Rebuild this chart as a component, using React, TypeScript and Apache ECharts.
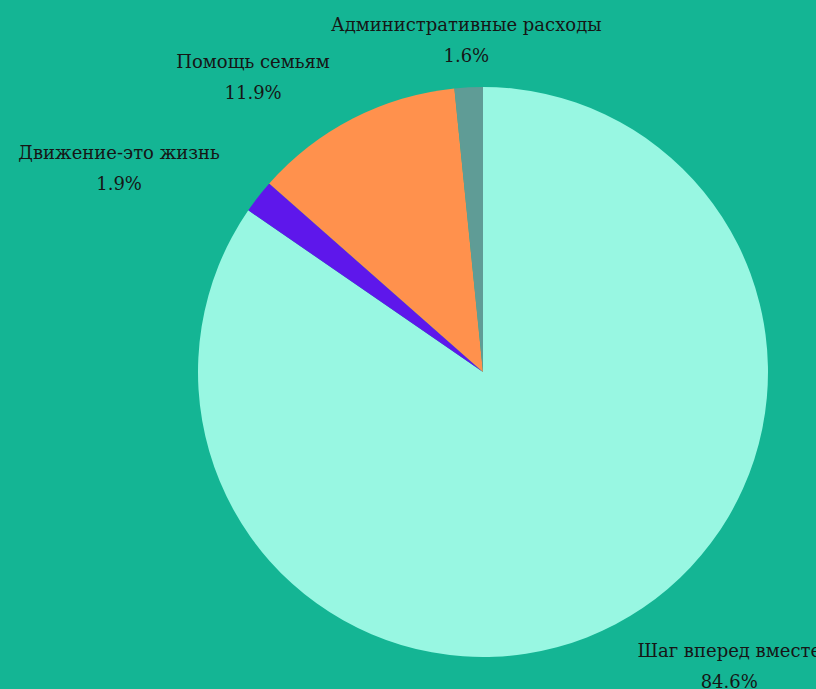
import React, { useEffect, useRef } from "react";
import * as echarts from "echarts";

const categories = [
  "Шаг вперед вместе",
  "Движение-это жизнь",
  "Помощь семьям",
  "Административные расходы",
];
const values = [84.6, 1.9, 11.9, 1.6];
const colors = ["#98F7E2", "#5E17EB", "#FF914D", "#5F9C96"];

export default function App() {
  const ref = useRef<HTMLDivElement>(null);
  useEffect(() => {
    document.body.style.margin = "0";
    const chart = echarts.init(ref.current!, null, { renderer: "svg" });
    chart.setOption({
      animation: false,
      backgroundColor: "#14B594",
      series: [
        {
          type: "pie",
          center: [483, 372],
          radius: 285,
          startAngle: 90,
          clockwise: true,
          avoidLabelOverlap: false,
          data: categories.map((name, i) => ({
            name,
            value: values[i],
            itemStyle: { color: colors[i] },
          })),
          label: {
            show: true,
            position: "outside",
            formatter: (p: any) => `{a|${p.name}}\n{a|${p.value.toFixed(1)}%}`,
            overflow: "none",
            rich: {
              a: {
                align: "center",
                fontFamily: "DejaVu Serif",
                fontSize: 18,
                color: "#161616",
                lineHeight: 31,
              },
            },
          },
          labelLine: {
            show: true,
            length: 47,
            length2: 0,
            lineStyle: { opacity: 0, width: 0 },
          },
          labelLayout: (p: any) => {
            const pts = p.labelLinePoints;
            if (!pts || pts.length < 2) return {};
            const a = pts[0];
            const b = pts[1];
            const dx = b[0] - a[0];
            const dy = b[1] - a[1];
            const l = Math.hypot(dx, dy) || 1;
            const ux = dx / l;
            const align = Math.abs(ux) < 0.2 ? "center" : ux < 0 ? "right" : "left";
            const off = align === "center" ? 0 : ux < 0 ? -1.5 : 0;
            return { x: b[0] + off, y: b[1], align, verticalAlign: "middle" };
          },
        },
      ],
    });
    return () => chart.dispose();
  }, []);
  return <div ref={ref} style={{ width: 816, height: 689 }} />;
}
